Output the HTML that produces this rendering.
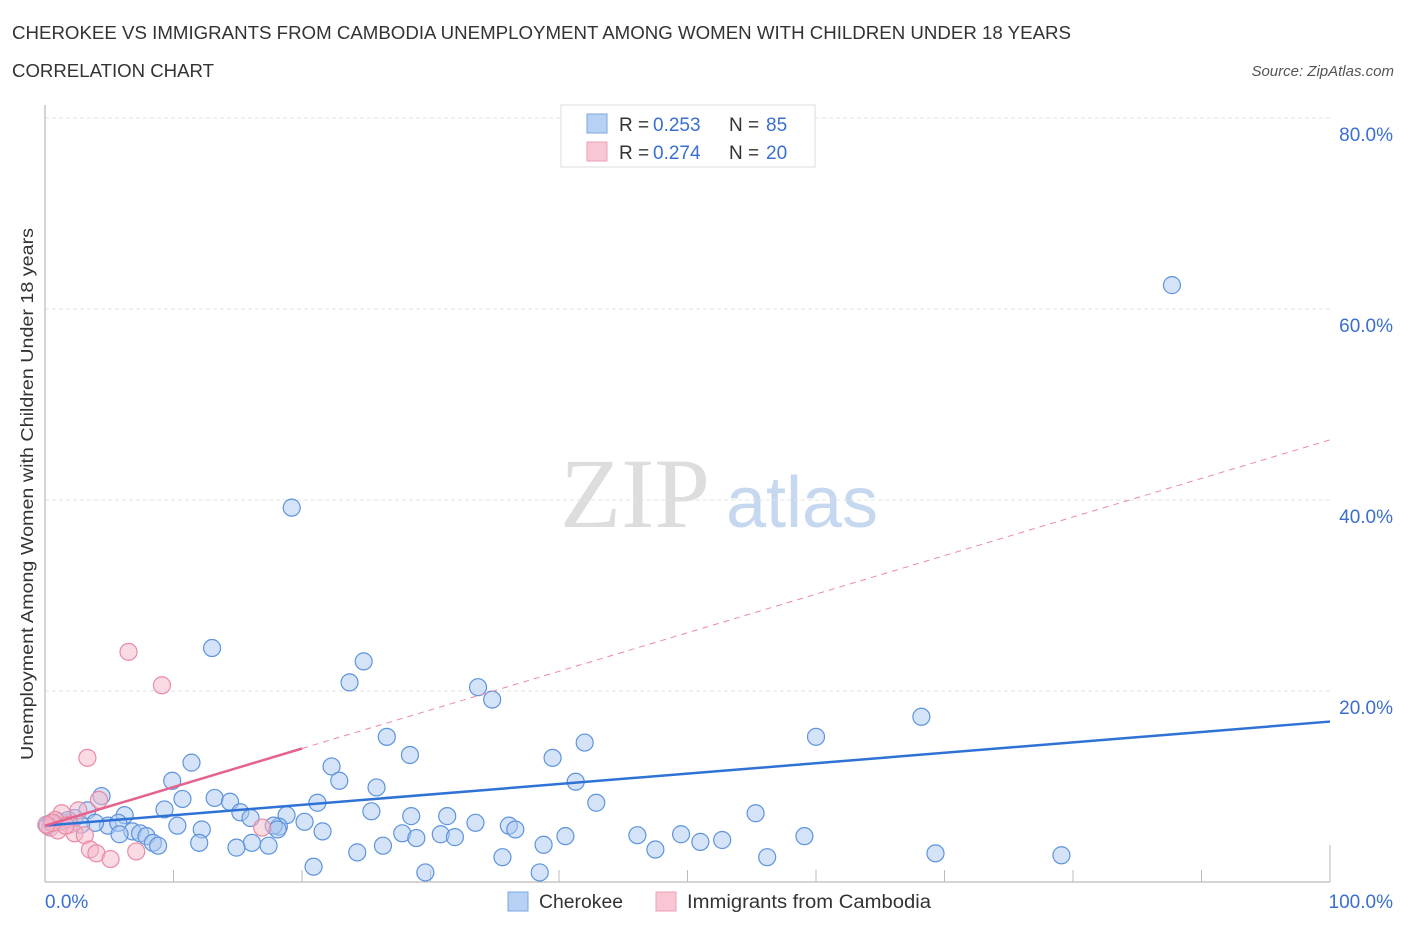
<!DOCTYPE html>
<html><head><meta charset="utf-8"><style>
body{margin:0;background:#fff;font-family:"Liberation Sans",sans-serif}
svg text{font-family:"Liberation Sans",sans-serif}
</style></head><body>
<svg width="1406" height="930" xmlns="http://www.w3.org/2000/svg">
<text x="12" y="39" font-size="18" fill="#333" textLength="1059" lengthAdjust="spacingAndGlyphs">CHEROKEE VS IMMIGRANTS FROM CAMBODIA UNEMPLOYMENT AMONG WOMEN WITH CHILDREN UNDER 18 YEARS</text>
<text x="12" y="77" font-size="18" fill="#333" textLength="202" lengthAdjust="spacingAndGlyphs">CORRELATION CHART</text>
<text x="1394" y="76" font-size="15" fill="#555" font-style="italic" text-anchor="end">Source: ZipAtlas.com</text>
<g>
<text x="635" y="527" font-size="100" fill="#ddd" text-anchor="middle" font-family="Liberation Serif" style="font-family:'Liberation Serif',serif">ZIP</text>
<text x="802" y="527" font-size="72" fill="#c5d8f0" text-anchor="middle">atlas</text>
</g>
<g id="grid"></g>
<g id="axes"></g>
<g id="pts"></g>
<g id="lines"></g>
<text transform="translate(33,494) rotate(-90)" font-size="17.5" fill="#333" text-anchor="middle" textLength="532" lengthAdjust="spacingAndGlyphs">Unemployment Among Women with Children Under 18 years</text>
<g>
<rect x="561" y="105" width="254" height="62" fill="#fff" stroke="#ddd"/>
<rect x="587" y="114" width="20" height="19" fill="#b7d1f4" stroke="#7aa6e0"/>
<rect x="587" y="142" width="20" height="19" fill="#f9c6d4" stroke="#eba0b6"/>
<text x="619" y="131" font-size="19" fill="#333">R =</text>
<text x="653" y="131" font-size="19" fill="#3a6fd0">0.253</text>
<text x="729" y="131" font-size="19" fill="#333">N =</text>
<text x="766" y="131" font-size="19" fill="#3a6fd0">85</text>
<text x="619" y="159" font-size="19" fill="#333">R =</text>
<text x="653" y="159" font-size="19" fill="#3a6fd0">0.274</text>
<text x="729" y="159" font-size="19" fill="#333">N =</text>
<text x="766" y="159" font-size="19" fill="#3a6fd0">20</text>
</g>
<g>
<rect x="508" y="892" width="20" height="19" fill="#b7d1f4" stroke="#7aa6e0"/>
<text x="539" y="908" font-size="19" fill="#333" textLength="84" lengthAdjust="spacingAndGlyphs">Cherokee</text>
<rect x="656" y="892" width="20" height="19" fill="#f9c6d4" stroke="#eba0b6"/>
<text x="687" y="908" font-size="19" fill="#333" textLength="244" lengthAdjust="spacingAndGlyphs">Immigrants from Cambodia</text>
</g>
</svg>
<script>
const blueX=[87.7,19.2,13.0,24.8,23.7,33.7,34.8,68.2,60.0,26.6,42.0,28.4,39.5,11.4,22.3,9.9,22.9,41.3,25.8,4.4,10.7,13.2,14.4,21.2,42.9,9.3,3.3,15.2,25.4,55.3,6.2,18.8,28.5,31.3,16.0,2.3,20.2,33.5,1.2,1.8,4.9,10.3,3.9,5.7,36.1,36.6,12.2,18.2,17.8,18.1,6.8,7.4,5.8,21.6,7.9,27.8,30.8,31.9,28.9,40.5,46.1,49.5,59.1,8.4,8.8,12.0,16.1,17.4,14.9,51.0,52.7,38.8,26.3,47.5,24.3,69.3,79.1,35.6,56.2,20.9,38.5,29.6,0.2,0.5,2.8];
const blueY=[62.5,39.2,24.5,23.1,20.9,20.4,19.1,17.3,15.2,15.2,14.6,13.3,13.0,12.5,12.1,10.6,10.6,10.5,9.9,9.0,8.7,8.8,8.4,8.3,8.3,7.6,7.5,7.3,7.4,7.2,7.0,7.0,6.9,6.9,6.7,6.7,6.3,6.2,6.3,6.5,5.9,5.9,6.2,6.2,5.9,5.5,5.5,5.8,5.9,5.5,5.3,5.1,5.0,5.3,4.8,5.1,5.0,4.7,4.6,4.8,4.9,5.0,4.8,4.1,3.8,4.1,4.1,3.8,3.6,4.2,4.4,3.9,3.8,3.4,3.1,3.0,2.8,2.6,2.6,1.6,1.0,1.0,5.9,6.2,6.0];
const pinkX=[6.5,9.1,3.3,4.2,2.6,1.3,0.8,1.9,0.4,1.0,2.3,3.1,16.9,3.5,4.0,5.1,7.1,1.6,0.6,0.1];
const pinkY=[24.1,20.6,13.0,8.6,7.5,7.2,6.5,6.0,5.7,5.4,5.1,4.9,5.7,3.4,3.0,2.4,3.2,5.9,6.2,6.0];
const blueTrend=[5.9,16.8];
const pinkTrend=[5.9,46.3];
const pinkSolidEnd=20;
const yTicks=[20,40,60,80];
const xTickLabels=["0.0%","100.0%"];
const X=v=>45+v*12.85, Y=v=>882-v*9.55;
const NS="http://www.w3.org/2000/svg";
function mk(p,t,a){const e=document.createElementNS(NS,t);for(const k in a)e.setAttribute(k,a[k]);document.getElementById(p).appendChild(e);return e;}
yTicks.forEach(t=>{
 const l=mk('grid','line',{x1:45,x2:1330,y1:Y(t),y2:Y(t),stroke:'#e3e3e3','stroke-dasharray':'4,3'});
 
 
 const tx=mk('grid','text',{x:1393,y:Y(t)+23,'font-size':19,fill:'#3a6fd0','text-anchor':'end'});
 tx.textContent=t.toFixed(1)+'%';
 
 
});
const ax=mk('axes','line',{x1:45,x2:1330,y1:882,y2:882,stroke:'#aaa'});


const ay=mk('axes','line',{x1:45,x2:45,y1:105,y2:882,stroke:'#aaa'});


for(let i=1;i<=10;i++){const t=mk('axes','line',{x1:X(i*10),x2:X(i*10),y1:882,y2:845,stroke:'#bbb'});
 if(i<10){t.setAttribute('y2',870);}
 
 }
[[0,'start',45],[100,'end',1393]].forEach((d,i)=>{const t=mk('axes','text',{x:d[2],y:908,'font-size':19,fill:'#3a6fd0','text-anchor':d[1]});
 t.textContent=xTickLabels[i];
 
 });
const py=x=>pinkTrend[0]+(pinkTrend[1]-pinkTrend[0])*x/100;
const pd=mk('lines','line',{x1:X(pinkSolidEnd),y1:Y(py(pinkSolidEnd)),x2:X(100),y2:Y(pinkTrend[1]),stroke:'#eb8aa8','stroke-width':1,'stroke-dasharray':'6,5'});


function dots(xs,ys,fill,stroke,name){xs.forEach((x,i)=>{const c=mk('pts','circle',{cx:X(x),cy:Y(ys[i]),r:8.5,fill:fill,'fill-opacity':0.5,stroke:stroke,'stroke-width':1.2});
 
 });}
dots(blueX,blueY,'#a9c8f0','#5e94dc','cherokee-point');
dots(pinkX,pinkY,'#f6b5c7','#e98aa6','cambodia-point');
const bl=mk('lines','line',{x1:X(0),y1:Y(blueTrend[0]),x2:X(100),y2:Y(blueTrend[1]),stroke:'#2f72d6','stroke-width':2.5});


const ps=mk('lines','line',{x1:X(0),y1:Y(pinkTrend[0]),x2:X(pinkSolidEnd),y2:Y(py(pinkSolidEnd)),stroke:'#e5628e','stroke-width':2.5});


</script>
</body></html>
